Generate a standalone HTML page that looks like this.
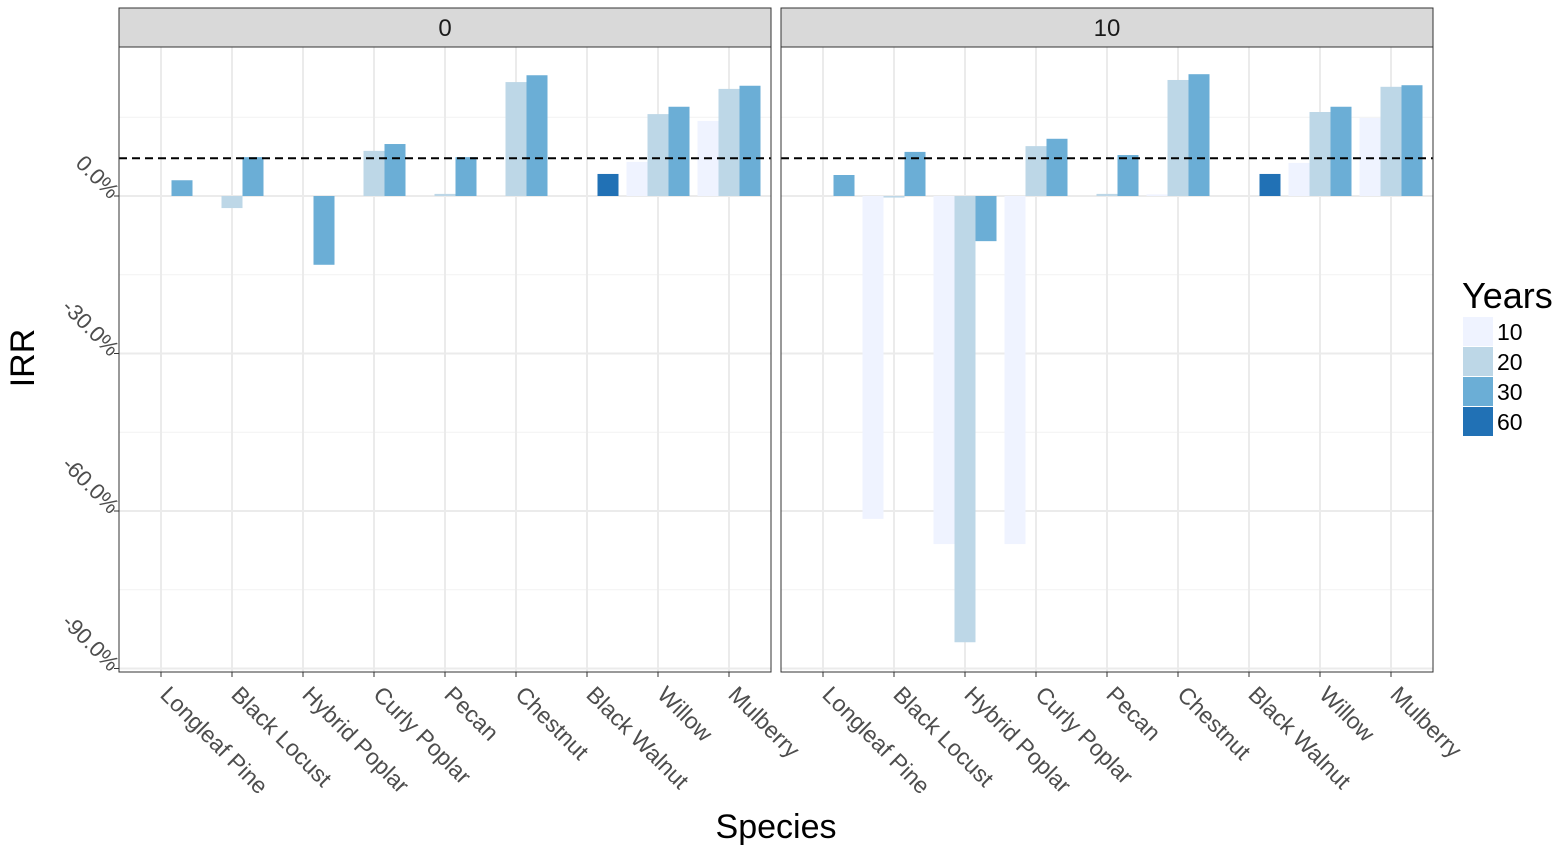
<!DOCTYPE html>
<html><head><meta charset="utf-8"><style>
body{margin:0;background:#fff;font-family:"Liberation Sans",sans-serif}
svg text{font-family:"Liberation Sans",sans-serif}
</style></head><body>
<svg id="chart" width="1559" height="853" xmlns="http://www.w3.org/2000/svg"></svg>
<script>
const categories=["Longleaf Pine","Black Locust","Hybrid Poplar","Curly Poplar","Pecan","Chestnut","Black Walnut","Willow","Mulberry"];
const panels=["0","10"];
const years=["10","20","30","60"];
const colors=["#eff3ff","#bdd7e7","#6baed6","#2171b5"];
const yTicks=[0,-30,-60,-90];
const yTickLabels=["0.0%","-30.0%","-60.0%","-90.0%"];
const hline=7.2;
const p0y10=[null,null,null,null,null,null,null,6.5,14.3];
const p0y20=[null,-2.3,null,8.6,0.4,21.7,null,15.6,20.4];
const p0y30=[3.0,7.4,-13.1,9.9,7.4,23.0,null,17.0,21.0];
const p0y60=[null,null,null,null,null,null,4.2,null,null];
const p1y10=[null,-61.5,-66.3,-66.3,null,0.3,null,6.3,14.9];
const p1y20=[null,-0.3,-85.0,9.5,0.4,22.1,null,16.0,20.8];
const p1y30=[4.0,8.4,-8.6,10.9,7.8,23.2,null,17.0,21.1];
const p1y60=[null,null,null,null,null,null,4.2,null,null];
const series=[[p0y10,p0y20,p0y30,p0y60],[p1y10,p1y20,p1y30,p1y60]];
const offsets=[-1,0,1,1];

const NS="http://www.w3.org/2000/svg";
const svg=document.getElementById("chart");
function mk(tag,attrs,parent,name,inter){const e=document.createElementNS(NS,tag);for(const k in attrs)e.setAttribute(k,attrs[k]);


(parent||svg).appendChild(e);return e;}
const plotTop=47,plotBottom=672;
const y0=196,pxPer=5.25;
function yScale(v){return y0-v*pxPer;}
const panelX=[119,781],pw=652,step=71,bw=21;
function xScale(p,i){return panelX[p]+42+i*step;}

panels.forEach((pn,p)=>{
  const x0=panelX[p];
  mk("rect",{x:x0,y:8,width:pw,height:39,fill:"#d9d9d9",stroke:"#333","stroke-width":1},null,"strip-"+pn,false);
  const t=mk("text",{x:x0+pw/2,y:36,"text-anchor":"middle","font-size":24,fill:"#1a1a1a"},null,"strip-label-"+pn,false);t.textContent=pn;
  mk("rect",{x:x0,y:plotTop,width:pw,height:plotBottom-plotTop,fill:"#fff"},null,"panel-bg-"+pn,false);
  [15,-15,-45,-75].forEach(v=>mk("line",{x1:x0,x2:x0+pw,y1:yScale(v),y2:yScale(v),stroke:"#f2f2f2","stroke-width":1},null,"minor-grid",false));
  yTicks.forEach(v=>mk("line",{x1:x0,x2:x0+pw,y1:yScale(v),y2:yScale(v),stroke:"#ebebeb","stroke-width":2},null,"major-grid",false));
  categories.forEach((c,i)=>mk("line",{x1:xScale(p,i),x2:xScale(p,i),y1:plotTop,y2:plotBottom,stroke:"#ebebeb","stroke-width":2},null,"x-grid",false));
  series[p].forEach((arr,s)=>{arr.forEach((v,i)=>{if(v===null)return;
    const cx=xScale(p,i)+offsets[s]*bw;const ya=yScale(v),yb=yScale(0);
    mk("rect",{x:cx-bw/2,y:Math.min(ya,yb),width:bw,height:Math.max(Math.abs(yb-ya),1),fill:colors[s]},null,"bar-"+pn+"-"+categories[i].toLowerCase().replace(/ /g,'-')+"-"+years[s],true);
  });});
  mk("line",{x1:x0,x2:x0+pw,y1:yScale(hline),y2:yScale(hline),stroke:"#000","stroke-width":2,"stroke-dasharray":"8,5"},null,"reference-line",false);
  mk("rect",{x:x0,y:plotTop,width:pw,height:plotBottom-plotTop,fill:"none",stroke:"#333","stroke-width":1},null,"panel-border-"+pn,false);
  categories.forEach((c,i)=>{const x=xScale(p,i);
    mk("line",{x1:x,x2:x,y1:plotBottom,y2:plotBottom+5,stroke:"#333","stroke-width":1},null,"x-tick",false);
    const tx=mk("text",{x:x-2,y:plotBottom+24,"font-size":23,fill:"#4d4d4d",transform:`rotate(45 ${x-2} ${plotBottom+24})`},null,"x-tick-label",false);tx.textContent=c;
  });
});
yTicks.forEach((v,i)=>{const y=yScale(v);
  mk("line",{x1:114,x2:119,y1:y,y2:y,stroke:"#333","stroke-width":1},null,"y-tick",false);
  const t=mk("text",{x:110,y:y+4,"text-anchor":"end","font-size":22,fill:"#4d4d4d",transform:`rotate(45 110 ${y+4})`},null,"y-tick-label",false);t.textContent=yTickLabels[i];
});
const yt=mk("text",{x:34,y:358,"text-anchor":"middle","font-size":34,fill:"#000",transform:"rotate(-90 34 358)"},null,"y-axis-title",false);yt.textContent="IRR";
const xt=mk("text",{x:776,y:838,"text-anchor":"middle","font-size":34,fill:"#000"},null,"x-axis-title",false);xt.textContent="Species";
const lt=mk("text",{x:1462,y:308,"font-size":36,fill:"#000"},null,"legend-title",false);lt.textContent="Years";
years.forEach((yr,i)=>{const y=317+i*30;
  mk("rect",{x:1463,y:y,width:30,height:29,fill:colors[i]},null,"legend-key-"+yr,true);
  const t=mk("text",{x:1497,y:y+23,"font-size":23,fill:"#000"},null,"legend-label-"+yr,false);t.textContent=yr;
});
</script>
</body></html>
